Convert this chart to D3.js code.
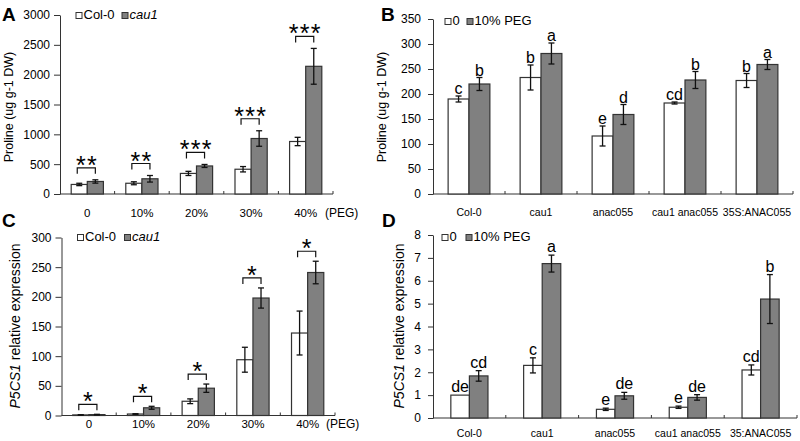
<!DOCTYPE html>
<html><head><meta charset="utf-8">
<script src="https://cdn.jsdelivr.net/npm/d3@7"></script>
<style>
body{margin:0;background:#fff}
svg{display:block;font-family:Arial,"Liberation Sans",sans-serif}
</style>
</head><body>
<svg id="chart" width="800" height="441"></svg>
<script>
// ---------- DATA ----------
const pegCategories = ["0", "10%", "20%", "30%", "40%"];
const genotypesB = ["Col-0", "cau1", "anac055", "cau1 anac055", "35S:ANAC055"];
const genotypesD = ["Col-0", "cau1", "anac055", "cau1 anac055", "35:ANAC055"];

// Panel A: proline (ug g-1 DW)
const prolineCol0 = [160, 180, 345, 415, 880];
const prolineCol0Err = [20, 25, 35, 45, 70];
const prolineCau1 = [210, 255, 470, 930, 2140];
const prolineCau1Err = [28, 55, 25, 130, 300];
const prolineStars = ["**", "**", "***", "***", "***"];
const yTicksA = [0, 500, 1000, 1500, 2000, 2500, 3000];

// Panel B: proline, 0 vs 10% PEG
const prolineB0 = [190, 233, 116, 182, 227];
const prolineB0Err = [6, 25, 20, 2, 14];
const prolineBPeg = [220, 281, 159, 228, 259];
const prolineBPegErr = [13, 21, 20, 17, 10];
const lettersB0 = ["c", "b", "e", "cd", "b"];
const lettersBPeg = ["b", "a", "d", "b", "a"];
const yTicksB = [0, 50, 100, 150, 200, 250, 300, 350];

// Panel C: P5CS1 relative expression
const p5cs1Col0 = [1, 2.5, 24, 94, 139];
const p5cs1Col0Err = [0.3, 0.5, 4, 21, 37];
const p5cs1Cau1 = [1.5, 13, 46, 198, 241];
const p5cs1Cau1Err = [0.5, 2.5, 7, 17, 19];
const p5cs1Stars = ["*", "*", "*", "*", "*"];
const yTicksC = [0, 50, 100, 150, 200, 250, 300];

// Panel D: P5CS1 relative expression, 0 vs 10% PEG
const p5cs1D0 = [1.0, 2.3, 0.38, 0.47, 2.1];
const p5cs1D0Err = [0, 0.33, 0.05, 0.05, 0.22];
const p5cs1DPeg = [1.84, 6.75, 0.97, 0.9, 5.2];
const p5cs1DPegErr = [0.23, 0.37, 0.15, 0.12, 1.07];
const lettersD0 = ["de", "c", "e", "e", "cd"];
const lettersDPeg = ["cd", "a", "de", "de", "b"];
const yTicksD = [0, 1, 2, 3, 4, 5, 6, 7, 8];

// ---------- DRAWING ----------
const svg = d3.select("#chart");
const GREY = "#808080", STROKE = "#333";

function panel(o) {
  const g = svg.append("g");
  const x = d3.scaleBand().domain(o.cats).range([o.x0, o.x1])
    .paddingInner(o.pad).paddingOuter(o.pad / 2);
  const xs = d3.scaleBand().domain([0, 1]).range([0, x.bandwidth()]);
  const y = d3.scaleLinear().domain([0, o.ticks[o.ticks.length - 1]]).range([o.yb, o.yt]);

  // y axis
  const ya = g.append("g").attr("transform", `translate(${o.x0},0)`)
    .call(d3.axisLeft(y).tickValues(o.ticks).tickFormat(d3.format("d"))
      .tickSize(o.tick).tickSizeOuter(0).tickPadding(o.tpad));
  ya.select(".domain").attr("stroke", STROKE);
  ya.selectAll(".tick line").attr("stroke", STROKE);
  ya.selectAll(".tick text").attr("font-size", 12).attr("fill", "#000")
    .attr("font-family", "Arial, 'Liberation Sans', sans-serif");

  // x axis line with inward ticks at category boundaries
  g.append("line").attr("x1", o.x0).attr("x2", o.x1).attr("y1", y(0)).attr("y2", y(0))
    .attr("stroke", STROKE);
  g.selectAll(".bt").data(o.cats).enter().append("line")
    .attr("x1", (d) => x(d) - x.step() * o.pad / 2 + x.step())
    .attr("x2", (d) => x(d) - x.step() * o.pad / 2 + x.step())
    .attr("y1", y(0)).attr("y2", y(0) - 3).attr("stroke", STROKE);

  // x labels
  g.selectAll(".xl").data(o.cats).enter().append("text")
    .attr("x", (d) => x(d) + x.bandwidth() / 2).attr("y", o.labelY)
    .attr("text-anchor", "middle").attr("font-size", o.labelSize).text((d) => d);
  if (o.extraLabel) {
    g.append("text").attr("x", o.extraLabel.x).attr("y", o.labelY)
      .attr("font-size", o.labelSize + 0.5).text(o.extraLabel.text);
  }

  // bars
  const series = [o.s0, o.s1];
  series.forEach((s, si) => {
    g.selectAll(".bar" + si).data(s.v).enter().append("rect")
      .attr("x", (d, i) => x(o.cats[i]) + xs(si))
      .attr("width", xs.bandwidth())
      .attr("y", (d) => y(d)).attr("height", (d) => y(0) - y(d))
      .attr("fill", si === 0 ? "#fff" : GREY)
      .attr("stroke", STROKE).attr("stroke-width", 1.2);
  });
  // error bars
  series.forEach((s, si) => {
    s.v.forEach((v, i) => {
      const e = s.e[i];
      if (!e) return;
      const cx = x(o.cats[i]) + xs(si) + xs.bandwidth() / 2;
      const eg = g.append("g").attr("stroke", "#111").attr("stroke-width", 1.3);
      eg.append("line").attr("x1", cx).attr("x2", cx).attr("y1", y(v + e)).attr("y2", y(v - e));
      eg.append("line").attr("x1", cx - 3).attr("x2", cx + 3).attr("y1", y(v + e)).attr("y2", y(v + e));
      eg.append("line").attr("x1", cx - 3).attr("x2", cx + 3).attr("y1", y(v - e)).attr("y2", y(v - e));
    });
  });

  // annotations
  if (o.stars) {
    o.cats.forEach((c, i) => {
      const top = Math.min(y(o.s0.v[i] + o.s0.e[i]), y(o.s1.v[i] + o.s1.e[i]));
      const by = top - o.bracketOff;
      const xa = x(c) + xs(0) + xs.bandwidth() / 2 - 2;
      const xb = x(c) + xs(1) + xs.bandwidth() / 2;
      g.append("path").attr("d", `M${xa},${by + 6}V${by}H${xb}V${by + 6}`)
        .attr("fill", "none").attr("stroke", "#111").attr("stroke-width", 1.2);
      const n = o.stars[i].length;
      const mid = (xa + xb) / 2;
      for (let k = 0; k < n; k++) {
        g.append("text").attr("x", mid + (k - (n - 1) / 2) * o.starPitch)
          .attr("y", by + o.starDy).attr("text-anchor", "middle")
          .attr("font-size", o.starSize).text("*");
      }
    });
  }
  if (o.letters) {
    series.forEach((s, si) => {
      s.v.forEach((v, i) => {
        const cx = x(o.cats[i]) + xs(si) + xs.bandwidth() / 2;
        g.append("text").attr("x", cx).attr("y", y(v + s.e[i]) - o.letterOff)
          .attr("text-anchor", "middle").attr("font-size", 16).text(o.letters[si][i]);
      });
    });
  }

  // y title
  const yt = g.append("text").attr("transform", `translate(${o.ytX},${o.ytY}) rotate(-90)`)
    .attr("text-anchor", "middle").attr("font-size", o.ytSize);
  o.ytParts.forEach((p) => yt.append("tspan").attr("font-style", p.i ? "italic" : "normal").text(p.t));

  // legend
  o.legend.forEach((l) => {
    g.append("rect").attr("x", l.x).attr("y", o.legY - 6.5).attr("width", 6).attr("height", 6)
      .attr("fill", l.fill).attr("stroke", STROKE).attr("stroke-width", 1);
    g.append("text").attr("x", l.x + 7.5).attr("y", o.legY).attr("font-size", 13)
      .attr("font-style", l.i ? "italic" : "normal").text(l.t);
  });

  // panel letter
  g.append("text").attr("x", o.letter.x).attr("y", o.letter.y).attr("font-size", 19)
    .attr("font-weight", "bold").text(o.letter.t);
}

panel({
  cats: pegCategories, x0: 60, x1: 333, pad: 0.41, yb: 194, yt: 15, ticks: yTicksA,
  tick: 6, tpad: 4, labelY: 217, labelSize: 11.5, extraLabel: { x: 325, text: "(PEG)" },
  s0: { v: prolineCol0, e: prolineCol0Err }, s1: { v: prolineCau1, e: prolineCau1Err },
  stars: prolineStars, bracketOff: 12, starPitch: 11, starSize: 25, starDy: 6,
  ytX: 13, ytY: 107, ytSize: 12.5, ytParts: [{ t: "Proline (ug g-1 DW)" }],
  legY: 19, legend: [{ x: 76, fill: "#fff", t: "Col-0" }, { x: 122, fill: GREY, t: "cau1", i: true }],
  letter: { x: 2, y: 21, t: "A" }
});

panel({
  cats: genotypesB, x0: 433, x1: 793, pad: 0.42, yb: 194, yt: 19, ticks: yTicksB,
  tick: 5, tpad: 7, labelY: 216, labelSize: 10.5,
  s0: { v: prolineB0, e: prolineB0Err }, s1: { v: prolineBPeg, e: prolineBPegErr },
  letters: [lettersB0, lettersBPeg], letterOff: 2,
  ytX: 386, ytY: 107, ytSize: 12.5, ytParts: [{ t: "Proline (ug g-1 DW)" }],
  legY: 25, legend: [{ x: 445, fill: "#fff", t: "0" }, { x: 467, fill: GREY, t: "10% PEG" }],
  letter: { x: 381, y: 21, t: "B" }
});

panel({
  cats: pegCategories, x0: 61.5, x1: 335, pad: 0.41, yb: 415.5, yt: 237.5, ticks: yTicksC,
  tick: 6, tpad: 4, labelY: 428, labelSize: 11.5, extraLabel: { x: 326, text: "(PEG)" },
  s0: { v: p5cs1Col0, e: p5cs1Col0Err }, s1: { v: p5cs1Cau1, e: p5cs1Cau1Err },
  stars: p5cs1Stars, bracketOff: 10, starPitch: 11, starSize: 25, starDy: 6,
  ytX: 20, ytY: 326, ytSize: 14, ytParts: [{ t: "P5CS1", i: true }, { t: " relative expression" }],
  legY: 241, legend: [{ x: 77.5, fill: "#fff", t: "Col-0" }, { x: 124.5, fill: GREY, t: "cau1", i: true }],
  letter: { x: 2, y: 227, t: "C" }
});

panel({
  cats: genotypesD, x0: 433, x1: 797, pad: 0.49, yb: 418, yt: 235, ticks: yTicksD,
  tick: 5, tpad: 7, labelY: 437, labelSize: 10.5,
  s0: { v: p5cs1D0, e: p5cs1D0Err }, s1: { v: p5cs1DPeg, e: p5cs1DPegErr },
  letters: [lettersD0, lettersDPeg], letterOff: 3,
  ytX: 404, ytY: 326, ytSize: 14, ytParts: [{ t: "P5CS1", i: true }, { t: " relative expression" }],
  legY: 241, legend: [{ x: 442, fill: "#fff", t: "0" }, { x: 466, fill: GREY, t: "10% PEG" }],
  letter: { x: 382, y: 227, t: "D" }
});
</script>
</body></html>
